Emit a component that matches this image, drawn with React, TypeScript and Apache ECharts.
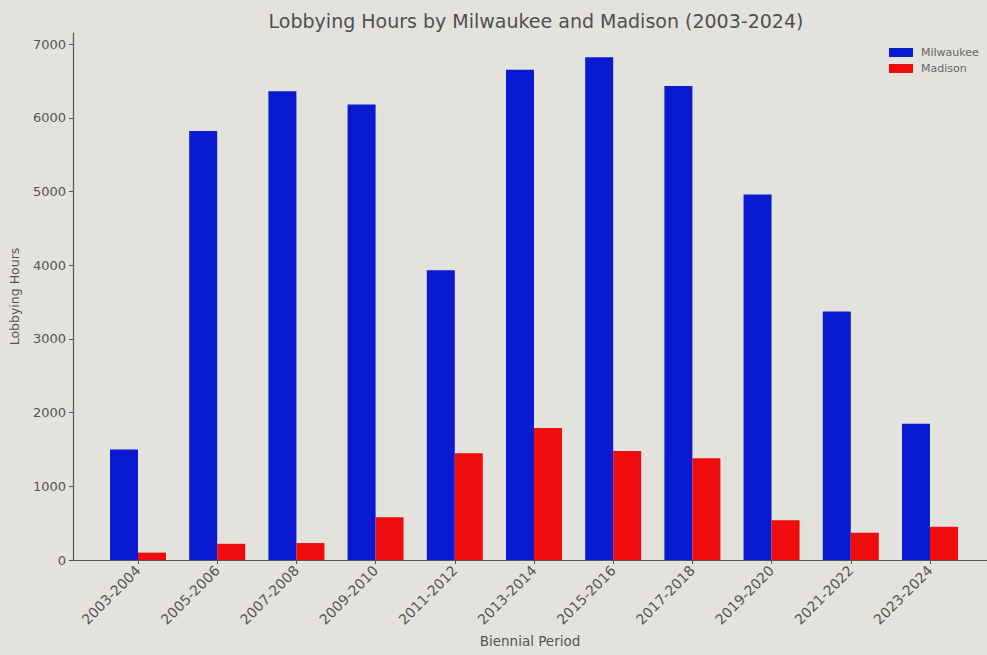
import React, { useEffect, useRef } from "react";
import * as echarts from "echarts";

const periods = [
  "2003-2004", "2005-2006", "2007-2008", "2009-2010", "2011-2012", "2013-2014",
  "2015-2016", "2017-2018", "2019-2020", "2021-2022", "2023-2024",
];
const milwaukee = [1500, 5820, 6360, 6180, 3930, 6650, 6820, 6430, 4960, 3370, 1850];
const madison = [100, 220, 230, 580, 1450, 1790, 1480, 1380, 540, 370, 450];
const yTicks = [0, 1000, 2000, 3000, 4000, 5000, 6000, 7000];

const TEXT = "#555555";
const FONT = "DejaVu Sans";

export default function App() {
  const ref = useRef<HTMLDivElement>(null);
  useEffect(() => {
    if (!ref.current) return;
    const chart = echarts.init(ref.current, null, { renderer: "svg" });
    const idx = periods.map((_, i) => i);
    chart.setOption({
      animation: false,
      backgroundColor: "#e3e2dc",
      textStyle: { fontFamily: FONT },
      title: {
        text: "Lobbying Hours by Milwaukee and Madison (2003-2024)",
        left: 531,
        top: 6,
        textAlign: "center",
        textStyle: { fontFamily: FONT, fontSize: 19, fontWeight: "normal", color: "#505050" },
      },
      legend: {
        left: 884,
        top: 42,
        orient: "vertical",
        itemWidth: 24,
        itemHeight: 9,
        itemGap: 5,
        icon: "rect",
        textStyle: { fontFamily: FONT, fontSize: 11, color: "#666", padding: [0, 0, 0, 3] },
        data: ["Milwaukee", "Madison"],
      },
      grid: { left: 73, right: 0, top: 33, bottom: 95, containLabel: false, outerBoundsMode: "none" },
      xAxis: {
        type: "value",
        min: -0.8207,
        max: 10.72,
        splitLine: { show: false },
        axisLine: { show: true, onZero: false, lineStyle: { color: "#555", width: 1.2 } },
        axisTick: { show: true, length: 4, customValues: idx, lineStyle: { color: "#555" } },
        axisLabel: {
          customValues: idx,
          rotate: 45,
          margin: 8,
          fontFamily: FONT,
          fontSize: 14,
          color: TEXT,
          formatter: (v: number) => periods[Math.round(v)] ?? "",
        },
        name: "Biennial Period",
        nameLocation: "middle",
        nameGap: 74,
        nameTextStyle: { fontFamily: FONT, fontSize: 13.5, color: TEXT },
      },
      yAxis: {
        type: "value",
        min: 0,
        max: 7150,
        interval: 1000,
        splitLine: { show: false },
        axisLine: { show: true, onZero: false, lineStyle: { color: "#555", width: 1.2 } },
        axisTick: { show: true, length: 4, customValues: yTicks, lineStyle: { color: "#555" } },
        axisLabel: {
          margin: 7,
          fontFamily: FONT,
          fontSize: 13,
          color: TEXT,
          customValues: yTicks,
          formatter: (v: number) => String(v),
        },
        name: "Lobbying Hours",
        nameLocation: "middle",
        nameGap: 52,
        nameTextStyle: { fontFamily: FONT, fontSize: 12.5, color: TEXT },
      },
      series: [
        {
          name: "Milwaukee",
          type: "bar",
          barWidth: 28,
          barGap: "0%",
          itemStyle: { color: "#0a1ad0" },
          data: milwaukee.map((v, i) => [i, v]),
        },
        {
          name: "Madison",
          type: "bar",
          barWidth: 28,
          barGap: "0%",
          itemStyle: { color: "#f00c0c" },
          data: madison.map((v, i) => [i, v]),
        },
      ],
    });
    return () => chart.dispose();
  }, []);
  return (
    <div
      ref={ref}
      style={{ position: "absolute", left: 0, top: 0, width: 987, height: 655 }}
    />
  );
}
